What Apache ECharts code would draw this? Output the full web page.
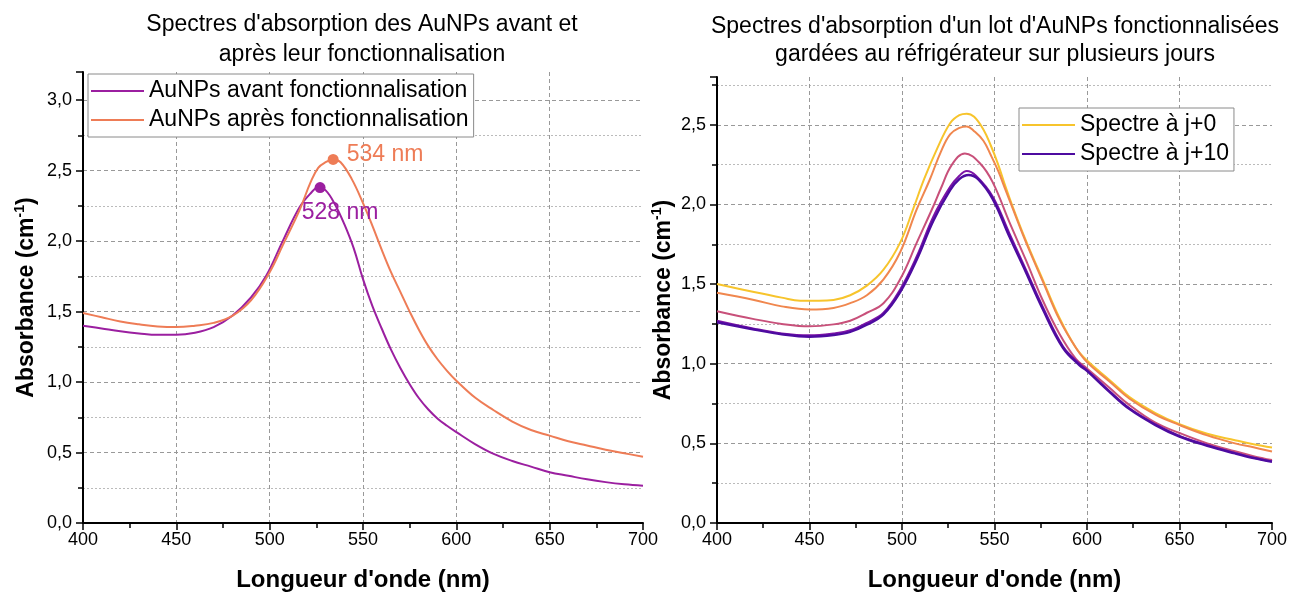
<!DOCTYPE html>
<html>
<head>
<meta charset="utf-8">
<script src="https://cdn.jsdelivr.net/npm/echarts@6/dist/echarts.min.js"></script>
<style>
html,body{margin:0;padding:0;background:#fff;}
#c{width:1290px;height:597px;}
</style>
</head>
<body>
<div id="c"></div>
<script>
// ---------- Left panel data ----------
const wlAvant = [400,410,420,430,440,450,460,470,480,490,498,507,516,522,526,530,535,540,545,550,555,560,565,570,575,580,585,590,595,600,610,620,630,640,650,660,670,680,690,700];
const absAvant = [1.40,1.38,1.36,1.345,1.335,1.335,1.35,1.39,1.47,1.60,1.75,2.00,2.24,2.34,2.38,2.36,2.26,2.12,1.95,1.73,1.54,1.38,1.23,1.10,0.985,0.885,0.805,0.74,0.69,0.645,0.56,0.49,0.44,0.40,0.36,0.335,0.31,0.29,0.275,0.265];
const wlApres = [400,410,420,430,440,450,460,470,480,490,500,507,516,522,526,530,534,538,544,550,555,560,565,570,575,580,585,590,595,600,610,620,630,640,650,660,670,680,690,700];
const absApres = [1.49,1.46,1.43,1.41,1.395,1.39,1.40,1.42,1.47,1.58,1.78,1.97,2.22,2.42,2.52,2.56,2.58,2.56,2.44,2.27,2.11,1.94,1.78,1.64,1.50,1.37,1.255,1.16,1.08,1.01,0.89,0.80,0.72,0.66,0.62,0.58,0.55,0.52,0.495,0.47];
const peakAvant = [527, 2.38];
const peakApres = [534, 2.58];
const peakLabels = ['528 nm', '534 nm'];

// ---------- Right panel data ----------
const wlJ0 = [400,420,435,445,455,463,472,481,490,499,506,512,519,526,531,535,539,544,548,552,556,560,565,570,576,585,594,600,612,623,637,650,665,680,690,700];
const absJ0 = [1.50,1.45,1.415,1.395,1.395,1.40,1.43,1.49,1.59,1.76,1.97,2.16,2.35,2.51,2.56,2.57,2.55,2.47,2.37,2.25,2.11,1.98,1.83,1.69,1.53,1.29,1.10,1.02,0.90,0.79,0.69,0.62,0.56,0.52,0.495,0.474];
const wlJa = [400,420,435,450,463,472,481,490,499,508,515,521,526,531,535,539,544,548,552,556,560,565,570,576,585,594,600,612,623,637,650,665,680,690,700];
const absJa = [1.445,1.40,1.36,1.34,1.35,1.38,1.43,1.53,1.70,1.97,2.155,2.33,2.44,2.48,2.49,2.46,2.40,2.31,2.21,2.09,1.97,1.82,1.68,1.52,1.28,1.10,1.01,0.89,0.78,0.68,0.615,0.55,0.50,0.475,0.449];
const wlJb = [400,420,435,450,463,472,481,490,499,508,517,521,527,534,542,549,558,567,576,585,594,600,612,623,637,650,665,680,690,700];
const absJb = [1.33,1.28,1.25,1.235,1.247,1.27,1.32,1.38,1.53,1.76,1.99,2.10,2.25,2.32,2.26,2.14,1.89,1.65,1.40,1.19,1.03,0.97,0.85,0.74,0.63,0.565,0.50,0.45,0.42,0.395];
const wlJc = [400,420,435,450,463,472,481,490,499,508,517,526,531,535,540,549,558,567,576,587,596,600,612,623,637,650,665,680,690,700];
const absJc = [1.27,1.22,1.19,1.178,1.19,1.21,1.257,1.32,1.466,1.675,1.925,2.11,2.18,2.21,2.18,2.05,1.82,1.59,1.36,1.11,1.00,0.96,0.83,0.72,0.62,0.547,0.49,0.44,0.41,0.387];
const wlJ10 = [400,420,435,450,463,472,481,490,499,508,517,526,531,536,541,549,558,567,576,587,596,600,612,623,637,650,665,680,690,700];
const absJ10 = [1.26,1.215,1.185,1.17,1.18,1.20,1.245,1.31,1.45,1.655,1.90,2.09,2.16,2.185,2.16,2.035,1.80,1.575,1.345,1.10,0.99,0.955,0.825,0.715,0.615,0.543,0.485,0.437,0.408,0.385];

const leftTitle = "Spectres d'absorption des AuNPs avant et\naprès leur fonctionnalisation";
const rightTitle = "Spectres d'absorption d'un lot d'AuNPs fonctionnalisées\ngardées au réfrigérateur sur plusieurs jours";
const xName = "Longueur d'onde (nm)";
const legendLeft = ['AuNPs avant fonctionnalisation', 'AuNPs après fonctionnalisation'];
const legendRight = ['Spectre à j+0', 'Spectre à j+10'];

const FONT = "'Liberation Sans', Arial, sans-serif";
const zip = (xs, ys) => xs.map((x, i) => [x, ys[i]]);

function xAxisCfg(gi) {
  return {
    type: 'value', gridIndex: gi, min: 400, max: 700, interval: 50,
    name: xName, nameLocation: 'middle', nameGap: 45,
    nameTextStyle: {fontFamily: FONT, fontSize: 24, fontWeight: 'bold', color: '#000'},
    axisLine: {show: true, onZero: false, lineStyle: {color: '#000', width: 2}},
    axisTick: {show: true, inside: false, length: 7, lineStyle: {color: '#000', width: 1.5}},
    minorTick: {show: true, splitNumber: 2, length: 5, lineStyle: {color: '#000', width: 1.5}},
    axisLabel: {fontFamily: FONT, fontSize: 18, color: '#000', margin: 8},
    splitLine: {show: true, showMinLine: false, showMaxLine: false, lineStyle: {color: '#999', type: [4, 3], width: 1}},
    minorSplitLine: {show: false}
  };
}
function yAxisCfg(gi, max, gap) {
  return {
    type: 'value', gridIndex: gi, min: 0, max: max, interval: 0.5,
    name: '{a|Absorbance (cm}{s|-1}{a|)}', nameLocation: 'middle', nameGap: gap, nameRotate: 90,
    nameTextStyle: {
      rich: {
        a: {fontFamily: FONT, fontSize: 23, fontWeight: 'bold', color: '#000', lineHeight: 28},
        s: {fontFamily: FONT, fontSize: 14, fontWeight: 'bold', color: '#000', verticalAlign: 'top', lineHeight: 28, padding: [0, 0, 11, 0]}
      }
    },
    axisLine: {show: true, onZero: false, lineStyle: {color: '#000', width: 2}},
    axisTick: {show: true, inside: false, length: 7, lineStyle: {color: '#000', width: 1.5}},
    minorTick: {show: true, splitNumber: 2, length: 5, lineStyle: {color: '#000', width: 1.5}},
    axisLabel: {fontFamily: FONT, fontSize: 18, color: '#000', margin: 11, showMaxLabel: false,
      formatter: v => v.toFixed(1).replace('.', ',')},
    splitLine: {show: true, showMinLine: false, showMaxLine: false, lineStyle: {color: '#999', type: [4, 3], width: 1}},
    minorSplitLine: {show: true, lineStyle: {color: '#bbb', type: [2, 2], width: 1}}
  };
}
function lineSeries(name, data, color, width, xi) {
  return {
    type: 'line', name: name, xAxisIndex: xi, yAxisIndex: xi, data: data,
    smooth: 0.4, showSymbol: false, symbol: 'none', animation: false,
    lineStyle: {color: color, width: width}, itemStyle: {color: color}
  };
}

const legendCommon = {
  orient: 'vertical', icon: 'rect', itemWidth: 53, itemHeight: 2, itemGap: 5,
  backgroundColor: '#fff', borderColor: '#8a8a8a', borderWidth: 1, borderRadius: 0,
  padding: [5, 5, 5, 3],
  textStyle: {fontFamily: FONT, fontSize: 23, color: '#000', lineHeight: 24},
  selectedMode: false
};

const C_AV = '#9b1fa0', C_AP = '#ee7c56';
const C_J0 = '#f7c42c', C_JA = '#f0874e', C_JB = '#c8507a', C_JC = '#7d14a6', C_J10 = '#4d0ba0';

const option = {
  backgroundColor: '#fff',
  animation: false,
  title: [
    {text: leftTitle, left: 362, top: 10, padding: 0, textAlign: 'center',
      textStyle: {fontFamily: FONT, fontSize: 23, fontWeight: 'normal', color: '#000', lineHeight: 30}},
    {text: rightTitle, left: 995, top: 13, padding: 0, textAlign: 'center',
      textStyle: {fontFamily: FONT, fontSize: 23, fontWeight: 'normal', color: '#000', lineHeight: 28}}
  ],
  legend: [
    Object.assign({}, legendCommon, {data: legendLeft, left: 88, top: 74}),
    Object.assign({}, legendCommon, {data: legendRight, left: 1019, top: 108})
  ],
  grid: [
    {left: 83, right: 647, top: 72, bottom: 73, containLabel: false},
    {left: 717, right: 18, top: 77, bottom: 73, containLabel: false}
  ],
  xAxis: [xAxisCfg(0), xAxisCfg(1)],
  yAxis: [yAxisCfg(0, 3.2, 42), yAxisCfg(1, 2.8, 39)],
  series: [
    lineSeries(legendLeft[0], zip(wlAvant, absAvant), C_AV, 2, 0),
    lineSeries(legendLeft[1], zip(wlApres, absApres), C_AP, 2, 0),
    {type: 'scatter', name: 'pic1', xAxisIndex: 0, yAxisIndex: 0, data: [peakAvant],
      symbolSize: 11, itemStyle: {color: C_AV, opacity: 1}, animation: false, z: 5,
      label: {show: true, formatter: peakLabels[0], position: 'bottom', offset: [20, 3],
        fontFamily: FONT, fontSize: 23, color: C_AV}},
    {type: 'scatter', name: 'pic2', xAxisIndex: 0, yAxisIndex: 0, data: [peakApres],
      symbolSize: 11, itemStyle: {color: C_AP, opacity: 1}, animation: false, z: 5,
      label: {show: true, formatter: peakLabels[1], position: 'right', distance: 8, offset: [0, -5],
        fontFamily: FONT, fontSize: 23, color: C_AP}},
    lineSeries(legendRight[0], zip(wlJ0, absJ0), C_J0, 2, 1),
    lineSeries('Spectre à j+a', zip(wlJa, absJa), C_JA, 2, 1),
    lineSeries('Spectre à j+b', zip(wlJb, absJb), C_JB, 2, 1),
    lineSeries('Spectre à j+c', zip(wlJc, absJc), C_JC, 2, 1),
    lineSeries(legendRight[1], zip(wlJ10, absJ10), C_J10, 2.5, 1)
  ]
};

const chart = echarts.init(document.getElementById('c'), null, {renderer: 'canvas'});
chart.setOption(option);
</script>
</body>
</html>
